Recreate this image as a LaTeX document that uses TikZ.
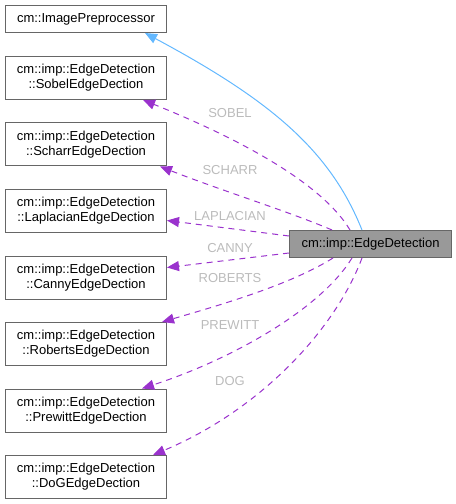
\documentclass[tikz,border=0pt]{standalone}
\usepackage{fontspec}
\setmainfont{Liberation Sans}
\usetikzlibrary{arrows.meta}
\definecolor{usecol}{HTML}{9A32CD}
\definecolor{inhcol}{HTML}{63B8FF}
\definecolor{bordercol}{HTML}{666666}
\definecolor{grayfill}{HTML}{999999}
\definecolor{labcol}{HTML}{BBBBBB}
\begin{document}
\begin{tikzpicture}[x=1bp,y=-1bp,font=\fontsize{13bp}{15bp}\selectfont,
  cls/.style={draw=bordercol, fill=white, line width=1bp, anchor=north west,
    minimum width=161bp, minimum height=43bp, inner sep=0pt, align=center, text=black},
  single/.style={cls, minimum height=27bp},
  cur/.style={cls, minimum height=27bp, minimum width=162bp, fill=grayfill},
  use/.style={draw=usecol, line width=1bp, dash pattern=on 6bp off 5bp,
    -{Triangle[length=12bp,width=10bp,fill=usecol]}},
  inh/.style={draw=inhcol, line width=1bp, -{Triangle[length=12bp,width=10bp,fill=inhcol]}},
  lab/.style={text=labcol, inner sep=0pt}]
\useasboundingbox (0,0) rectangle (456,504);
\node[single] (ip) at (5,5) {cm::ImagePreprocessor};
\node[cls] (sobel) at (5,56) {cm::imp::EdgeDetection\\::SobelEdgeDection};
\node[cls] (scharr) at (5,122.5) {cm::imp::EdgeDetection\\::ScharrEdgeDection};
\node[cls] (lap) at (5,189) {cm::imp::EdgeDetection\\::LaplacianEdgeDection};
\node[cls] (canny) at (5,255.5) {cm::imp::EdgeDetection\\::CannyEdgeDection};
\node[cls] (rob) at (5,322) {cm::imp::EdgeDetection\\::RobertsEdgeDection};
\node[cls] (pre) at (5,388.5) {cm::imp::EdgeDetection\\::PrewittEdgeDection};
\node[cls] (dog) at (5,455) {cm::imp::EdgeDetection\\::DoGEdgeDection};
\node[cur] (ed) at (289,230) {cm::imp::EdgeDetection};

\draw[inh] ([xshift=73bp]ed.north west) .. controls (330,150) and (270,100) .. ([xshift=140bp]ip.south west);
\draw[use] ([xshift=61bp]ed.north west) .. controls (320,180) and (230,135) .. ([xshift=138bp]sobel.south west);
\draw[use] ([xshift=43bp]ed.north west) .. controls (290,212) and (220,190) .. ([xshift=155bp]scharr.south west);
\draw[use] ([yshift=8bp]ed.west) -- ([yshift=-9.5bp]lap.east);
\draw[use] ([yshift=-9bp]ed.west) -- ([yshift=10bp]canny.east);
\draw[use] ([xshift=44bp]ed.south west) .. controls (290,285) and (220,305) .. ([xshift=157bp]rob.north west);
\draw[use] ([xshift=63bp]ed.south west) .. controls (320,310) and (230,360) .. ([xshift=137bp]pre.north west);
\draw[use] ([xshift=73bp]ed.south west) .. controls (335,330) and (260,410) .. ([xshift=148bp]dog.north west);

\node[lab] (lsobel) at (230,113) {SOBEL};
\node[lab] (lscharr) at (230,170) {SCHARR};
\node[lab] (llap) at (230,216) {LAPLACIAN};
\node[lab] (lcanny) at (230,248) {CANNY};
\node[lab] (lrob) at (230,278) {ROBERTS};
\node[lab] (lpre) at (230,325) {PREWITT};
\node[lab] (ldog) at (230,381) {DOG};
\end{tikzpicture}
\end{document}
